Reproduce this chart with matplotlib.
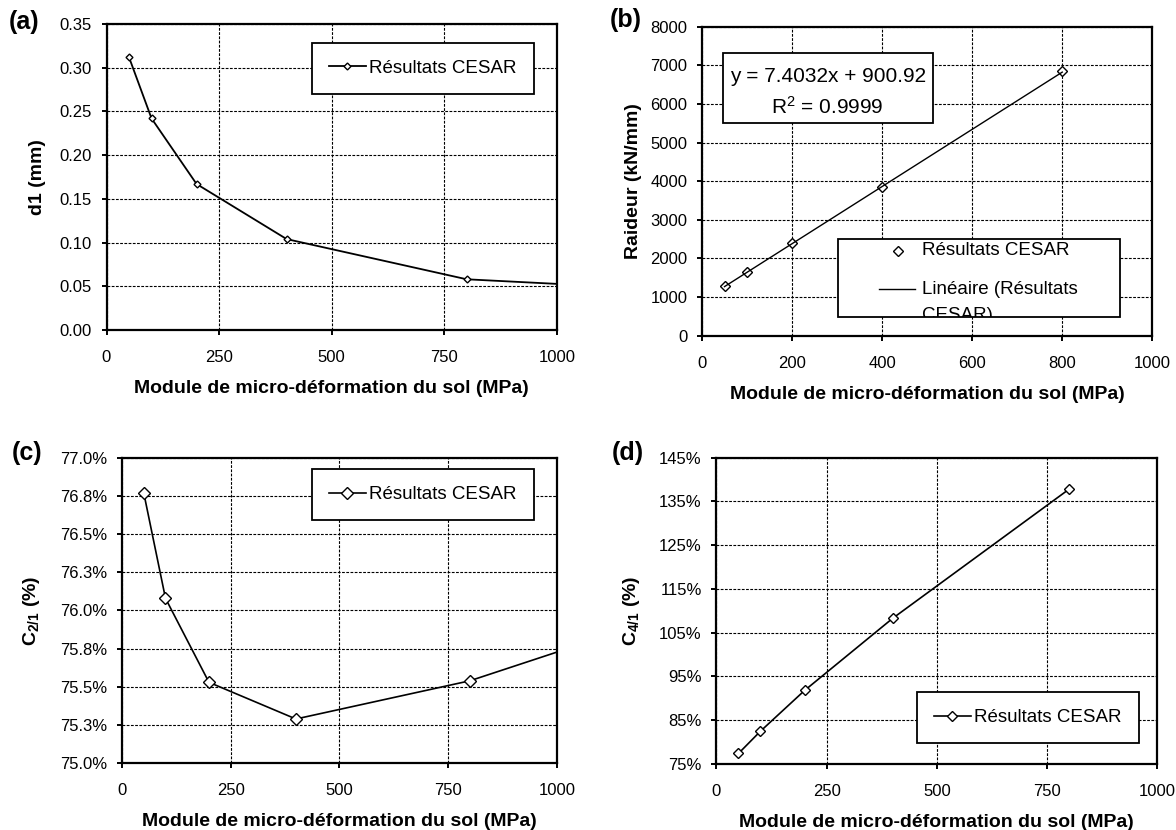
import matplotlib
matplotlib.use("Agg")
import matplotlib.pyplot as plt
from matplotlib.patches import Rectangle
from matplotlib.ticker import FormatStrFormatter
import numpy as np

plt.rcParams['font.family'] = ['Liberation Sans', 'DejaVu Sans']
plt.rcParams['mathtext.fontset'] = 'custom'
plt.rcParams['mathtext.rm'] = 'Liberation Sans'
plt.rcParams['mathtext.it'] = 'Liberation Sans:italic'
plt.rcParams['mathtext.bf'] = 'Liberation Sans:bold'

# donnees
module = [50, 100, 200, 400, 800]
module_hors_axe = 1600          # dernier point, hors de l'axe (seule la ligne le montre)
d1 = [0.312, 0.242, 0.167, 0.104, 0.058]
d1_hors_axe = 0.037
raideur = [1294, 1657, 2390, 3840, 6842]
pente, ordonnee = 7.4032, 900.92
r2 = 0.9999
c21 = [76.77, 76.08, 75.53, 75.29, 75.54]
c21_hors_axe = 76.29
c41 = [77.4, 82.5, 91.8, 108.3, 137.8]

ticks_x = [0, 250, 500, 750, 1000]
ticks_x_b = [0, 200, 400, 600, 800, 1000]
ticks_d1 = [0.00, 0.05, 0.10, 0.15, 0.20, 0.25, 0.30, 0.35]
ticks_raideur = [0, 1000, 2000, 3000, 4000, 5000, 6000, 7000, 8000]
ticks_c21 = [75.0, 75.25, 75.5, 75.75, 76.0, 76.25, 76.5, 76.75, 77.0]
labels_c21 = ['75.0%', '75.3%', '75.5%', '75.8%', '76.0%', '76.3%', '76.5%', '76.8%', '77.0%']
ticks_c41 = [75, 85, 95, 105, 115, 125, 135, 145]

xlabel = 'Module de micro-déformation du sol (MPa)'
legende = 'Résultats CESAR'

W, H = 1176, 830
fig = plt.figure(figsize=(W / 100, H / 100), dpi=100)


def axe_px(x0, x1, y0, y1):
    # y0 = haut, y1 = bas, en pixels
    return fig.add_axes([x0 / W, (H - y1) / H, (x1 - x0) / W, (y1 - y0) / H])


def habiller(ax, xticks, yticks, ylabel, ylab_x):
    ax.set_xlim(0, 1000)
    ax.set_xticks(xticks)
    ax.set_yticks(yticks)
    ax.set_ylim(yticks[0], yticks[-1])
    ax.grid(True, color='black', linestyle=(0, (2.5, 1.3)), linewidth=0.8)
    ax.set_axisbelow(True)
    for s in ax.spines.values():
        s.set_linewidth(1.6)
    ax.tick_params(direction='out', length=3.5, width=1.4, labelsize=12)
    ax.tick_params(axis='x', pad=11)
    ax.tick_params(axis='y', pad=7)
    ax.set_xlabel(xlabel, fontsize=14, fontweight='bold')
    ax.xaxis.label.set_va('center')
    ax.xaxis.set_label_coords(0.5, -0.19)
    ax.set_ylabel(ylabel, fontsize=14, fontweight='bold')
    ax.yaxis.label.set_va('center')
    ax.yaxis.set_label_coords(ylab_x, 0.5)


def legende_simple(ax, loc, ancre):
    leg = ax.legend(loc=loc, bbox_to_anchor=ancre, borderaxespad=0, fancybox=False,
                    edgecolor='black', framealpha=1, fontsize=13.5, handlelength=1.95,
                    handletextpad=0.2, borderpad=0.9)
    leg.get_frame().set_linewidth(1.3)


# (a)
ax = axe_px(106.5, 556.8, 24, 330)
ax.plot(module + [module_hors_axe], d1 + [d1_hors_axe], color='black', lw=1.3,
        marker='D', ms=3.5, mfc='white', mec='black', mew=1.0, label=legende)
habiller(ax, ticks_x, ticks_d1, 'd1 (mm)', -0.154)
ax.yaxis.set_major_formatter(FormatStrFormatter('%.2f'))
legende_simple(ax, 'upper right', (0.949, 0.939))

# (b)
ax = axe_px(702, 1152.3, 26.7, 335.7)
ax.plot(module, raideur, linestyle='none', marker='D', ms=5.5, mfc='white', mec='black', mew=1.0)
xt = np.array([module[0], module[-1]])
ax.plot(xt, np.polyval([pente, ordonnee], xt), color='black', lw=1.0)
habiller(ax, ticks_x_b, ticks_raideur, 'Raideur (kN/mm)', -0.153)

cadre = Rectangle((0.0457, 0.687), 0.513 - 0.0457, 0.916 - 0.687, transform=ax.transAxes,
                  fc='white', ec='black', lw=1.3, zorder=5)
ax.add_patch(cadre)
ax.text(0.279, 0.840, f'y = {pente}x + {ordonnee}', transform=ax.transAxes,
        ha='center', va='center', fontsize=15, zorder=6)
ax.text(0.279, 0.741, f'R$^2$ = {r2}', transform=ax.transAxes,
        ha='center', va='center', fontsize=15, zorder=6)

boite = Rectangle((0.303, 0.0621), 0.929 - 0.303, 0.313 - 0.0621, transform=ax.transAxes,
                  fc='white', ec='black', lw=1.3, zorder=5)
ax.add_patch(boite)
ax.plot([0.436], [0.275], transform=ax.transAxes, linestyle='none', marker='D', ms=5.5,
        mfc='white', mec='black', mew=1.0, zorder=6, clip_on=False)
ax.plot([0.392, 0.472], [0.150, 0.150], transform=ax.transAxes, color='black', lw=1.0,
        zorder=6, clip_on=False)
textes = [(0.275, legende), (0.150, 'Linéaire (Résultats'), (0.066, 'CESAR)')]
for y, t in textes:
    tx = ax.text(0.489, y, t, transform=ax.transAxes, ha='left', va='center',
                 fontsize=13.5, zorder=6, clip_on=True)
    tx.set_clip_path(boite)

# (c)
ax = axe_px(122, 556.8, 457.7, 763.3)
ax.plot(module + [module_hors_axe], c21 + [c21_hors_axe], color='black', lw=1.2,
        marker='D', ms=6.5, mfc='white', mec='black', mew=1.0, label=legende)
habiller(ax, ticks_x, ticks_c21, r'$\mathbf{C_{2/1}}$ (%)', -0.208)
ax.set_yticklabels(labels_c21)
legende_simple(ax, 'upper right', (0.947, 0.962))

# (d)
ax = axe_px(716.4, 1157.2, 457.7, 764)
ax.plot(module, c41, color='black', lw=1.2,
        marker='D', ms=5.5, mfc='white', mec='black', mew=1.0, label=legende)
habiller(ax, ticks_x, ticks_c41, r'$\mathbf{C_{4/1}}$ (%)', -0.193)
ax.yaxis.set_major_formatter(FormatStrFormatter('%d%%'))
legende_simple(ax, 'lower right', (0.958, 0.0676))

# lettres des sous-figures
for x, y, t in [(9, 21.7, '(a)'), (610, 20, '(b)'), (11.7, 453.3, '(c)'), (611.7, 453.3, '(d)')]:
    fig.text(x / W, (H - y) / H, t, ha='left', va='center', fontsize=18, fontweight='bold')

fig.savefig('out.png', dpi=100)
